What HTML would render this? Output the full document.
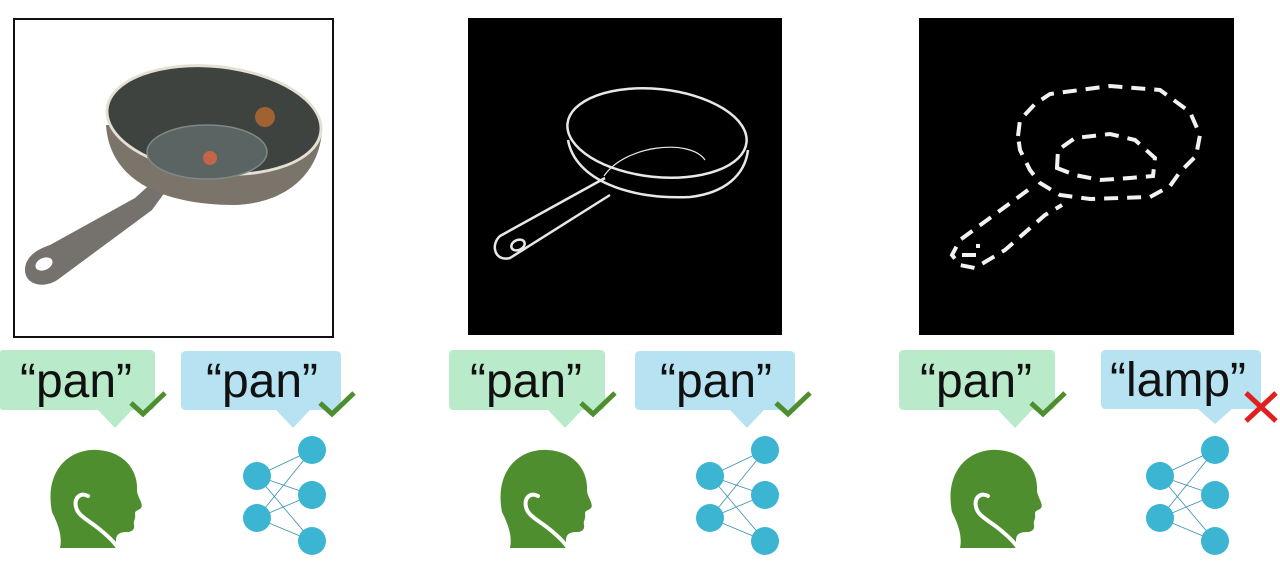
<!DOCTYPE html>
<html><head><meta charset="utf-8"><style>
html,body{margin:0;padding:0;background:#fff;width:1280px;height:582px;overflow:hidden}
text{font-family:"Liberation Sans",sans-serif}
</style></head><body>
<svg width="1280" height="582" viewBox="0 0 1280 582" xmlns="http://www.w3.org/2000/svg">
<defs>
<g id="head">
<path d="M52,512 C44,470 70,448 98,450 C126,452 138,472 137,490 C137,497 144,504 141,508 C138,511 135,510 135,514 C136,519 133,521 134,525 C135,530 131,532 127,532 C120,532 116,534 116,540 L116,548 L60,548 C62,538 60,528 52,512 Z" fill="#4f8e2f"/>
<path d="M88,496 C80,492 74,498 76,507 C78,516 88,520 98,528 C108,536 115,543 118,548" fill="none" stroke="#fff" stroke-width="4" stroke-linecap="round"/>
</g>
<g id="nn">
<g stroke="#3a90b0" stroke-width="0.8" fill="none">
<line x1="257" y1="476" x2="312" y2="450"/><line x1="257" y1="476" x2="312" y2="495"/><line x1="257" y1="476" x2="312" y2="541"/>
<line x1="257" y1="518" x2="312" y2="450"/><line x1="257" y1="518" x2="312" y2="495"/><line x1="257" y1="518" x2="312" y2="541"/>
</g>
<g fill="#3bb5d2">
<circle cx="257" cy="476" r="14"/><circle cx="257" cy="518" r="14"/>
<circle cx="312" cy="450" r="14"/><circle cx="312" cy="495" r="14"/><circle cx="312" cy="541" r="14"/>
</g>
</g>
<g id="gb">
<path d="M4,350 H150 Q155,350 155,355 V405 Q155,410 150,410 H132 L115,428 L98,410 H4 Q-1,410 -1,405 V355 Q-1,350 4,350 Z" fill="#b9ebcb"/>
<text x="76" y="397" font-size="48" text-anchor="middle" fill="#111">“pan”</text>
</g>
<path id="chk" d="M0,10 L12,21 L34,0" fill="none" stroke="#4f8e2f" stroke-width="5"/>
</defs>

<rect x="14" y="19" width="319" height="318" fill="#fff" stroke="#111" stroke-width="2"/>
<path d="M135,198 L155,180 L168,188 L152,210 L60,278 C45,290 25,285 25,270 C25,258 35,250 50,245 Z" fill="#75716d"/>
<ellipse cx="44" cy="264" rx="9" ry="6" fill="#fff" transform="rotate(-25 44 264)"/>
<path d="M106,125 C110,185 170,205 235,205 C290,203 320,170 322,130 Z" fill="#7a746a"/>
<ellipse cx="214" cy="120" rx="109" ry="55" fill="#e5e0d4" transform="rotate(6 214 120)"/>
<ellipse cx="214" cy="120" rx="106" ry="52" fill="#3e4340" transform="rotate(6 214 120)"/>
<ellipse cx="207" cy="152" rx="60" ry="27" fill="#5a6462" stroke="#7d8a88" stroke-width="1.5"/>
<circle cx="210" cy="158" r="7" fill="#c4654a"/>
<circle cx="265" cy="117" r="10" fill="#b96a2c" opacity="0.8"/>

<rect x="468" y="18" width="314" height="317" fill="#000"/>
<g fill="none" stroke="#e8e8e8" stroke-width="2.5">
<ellipse cx="657" cy="133" rx="90" ry="44" transform="rotate(6 657 133)"/>
<path d="M568,140 C575,180 630,200 690,197 C725,193 745,175 748,150"/>
<path d="M605,178 L500,236 C490,245 495,262 510,258 L610,195"/>
<ellipse cx="518" cy="245" rx="7" ry="5" transform="rotate(-25 518 245)"/>
<path d="M604,176 C625,145 690,138 705,160" stroke-width="1.2"/>
</g>

<rect x="919" y="18" width="315" height="317" fill="#000"/>
<g fill="none" stroke="#f2f2f2" stroke-width="4" stroke-dasharray="14,9">
<path d="M1018,136 L1020,120 L1035,104 L1050,94 L1110,86 L1160,90 L1190,112 L1200,135 L1196,156 L1180,172 L1170,186 L1150,197 L1090,199 L1060,195 L1040,183 L1030,170 L1020,150 Z"/>
<path d="M1057,168 L1058,150 L1075,138 L1110,134 L1135,140 L1155,158 L1153,176 L1130,178 L1100,180 L1075,175 Z"/>
<path d="M1028,190 L960,240 L952,255 L960,265 L975,268 L1005,250 L1045,215 L1062,205"/>
<path d="M962,255 L978,255 L978,244"/>
</g>

<use href="#gb"/>
<path d="M186,351 H336 Q341,351 341,356 V405 Q341,410 336,410 H310 L293,428 L276,410 H186 Q181,410 181,405 V356 Q181,351 186,351 Z" fill="#b6e2f1"/>
<text x="262" y="397" font-size="48" text-anchor="middle" fill="#111">“pan”</text>
<use href="#chk" x="131" y="393"/>
<use href="#chk" x="320" y="393"/>
<use href="#head"/>
<use href="#nn"/>

<g transform="translate(450,0)">
<use href="#gb"/>
<path d="M190,351 H340 Q345,351 345,356 V405 Q345,410 340,410 H314 L297,428 L280,410 H190 Q185,410 185,405 V356 Q185,351 190,351 Z" fill="#b6e2f1"/>
<text x="266" y="397" font-size="48" text-anchor="middle" fill="#111">“pan”</text>
<use href="#chk" x="131" y="393"/>
<use href="#chk" x="326" y="393"/>
<use href="#head"/>
<use href="#nn" x="3"/>
</g>

<g transform="translate(900,0)">
<use href="#gb"/>
<use href="#chk" x="131" y="393"/>
<path d="M206,350 H356 Q361,350 361,355 V404 Q361,409 356,409 H332 L315,424 L298,409 H206 Q201,409 201,404 V355 Q201,350 206,350 Z" fill="#b6e2f1"/>
<text x="278" y="396" font-size="48" text-anchor="middle" fill="#111">“lamp”</text>
<path d="M346,393 L376,421 M376,393 L346,421" stroke="#e02020" stroke-width="5"/>
<use href="#head"/>
<use href="#nn" x="3"/>
</g>
</svg>
</body></html>
